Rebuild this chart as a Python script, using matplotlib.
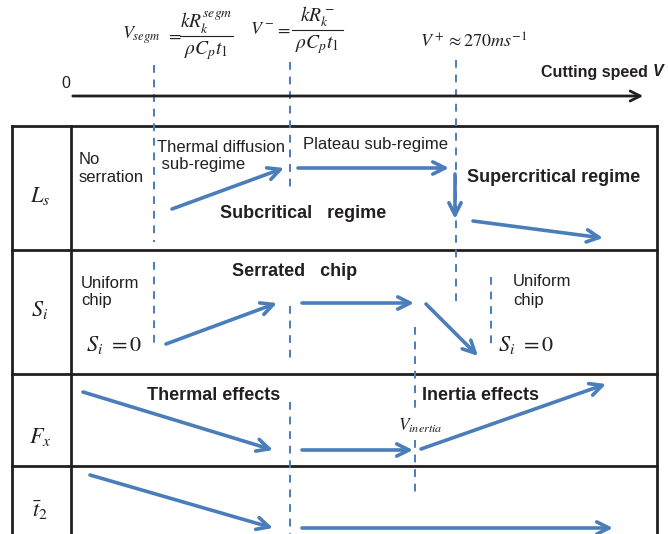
import matplotlib.pyplot as plt

plt.rcParams['font.family'] = ['Liberation Sans', 'DejaVu Sans']
plt.rcParams['mathtext.fontset'] = 'stix'

blue = '#4a7ebb'
ink = '#231f20'

# row labels of the table and their vertical centres
row_labels = [r'$L_s$', r'$S_i$', r'$F_x$', r'$\bar{t}_2$']
row_centres = [196, 310, 437, 510]
row_lines = [126, 250, 374, 466]

# trend arrows: (x0, y0, x1, y1)
arrows = [
    (172, 209, 284, 168), (298, 168, 449, 168), (455, 174, 455, 219), (473, 221, 603, 238),
    (166, 344, 277, 303), (302, 303, 414, 303), (426, 304, 478, 356),
    (83, 392, 273, 450), (302, 450, 413, 450), (421, 449, 606, 384),
    (90, 475, 273, 528), (302, 528, 613, 528),
]

# dashed markers of the critical speeds: (x, y_top, y_bottom)
dashes = [
    (154, 65, 242), (154, 262, 348),
    (290, 62, 190), (290, 306, 364), (290, 402, 534),
    (456, 60, 308),
    (415, 327, 413), (415, 440, 498),
    (491, 277, 350),
]

# critical speed formulas: (lhs, numerator, denominator, x_lhs, x_eq, bar_x0, bar_x1, y_bar)
formulas = [
    (r'$V_{segm}$', r'$kR_k^{segm}$', r'$\rho C_p t_1$', 122, 174, 180, 233, 36),
    (r'$V^-$', r'$kR_k^-$', r'$\rho C_p t_1$', 250, 283, 292, 343, 30),
]

fig = plt.figure(figsize=(6.68, 5.34), dpi=100)
ax = fig.add_axes([0, 0, 1, 1])
ax.set_xlim(0, 668)
ax.set_ylim(534, 0)
ax.axis('off')

# table frame
for y in row_lines:
    ax.plot([12, 657], [y, y], color=ink, lw=2)
for x in [12, 71, 657]:
    ax.plot([x, x], [126, 534], color=ink, lw=2)

for lab, yc in zip(row_labels, row_centres):
    ax.text(40, yc, lab, fontsize=16, ha='center', va='center', color=ink)

# speed axis
ax.annotate('', xy=(646, 96), xytext=(70, 96),
            arrowprops=dict(arrowstyle='->', lw=2, color=ink, mutation_scale=18))
ax.text(66, 84, '0', fontsize=11.5, ha='center', va='center', color=ink)
ax.text(652, 72, 'Cutting speed ', fontsize=11.5, fontweight='bold',
        ha='right', va='center', color=ink)
ax.text(653, 72, 'V', fontsize=11.5, fontweight='bold', fontstyle='italic',
        ha='left', va='center', color=ink)

for lhs, num, den, xl, xe, b0, b1, yb in formulas:
    ax.text(xl, yb - 1, lhs, fontsize=13, ha='left', va='center', color=ink)
    ax.text(xe, yb - 1, '$=$', fontsize=13, ha='center', va='center', color=ink)
    ax.plot([b0, b1], [yb, yb], color=ink, lw=0.8)
    ax.text((b0 + b1) / 2, yb - 13, num, fontsize=14, ha='center', va='center', color=ink)
    ax.text((b0 + b1) / 2, yb + 15, den, fontsize=14, ha='center', va='center', color=ink)

ax.text(420, 42, r'$V^+\approx 270ms^{-1}$', fontsize=13,
        ha='left', va='center', color=ink)

for x, y0, y1 in dashes:
    ax.plot([x, x], [y0, y1], color=blue, lw=1.4, ls=(0, (4, 3.5)))

for x0, y0, x1, y1 in arrows:
    ax.annotate('', xy=(x1, y1), xytext=(x0, y0),
                arrowprops=dict(arrowstyle='->', lw=2.6, color=blue, mutation_scale=22,
                                shrinkA=0, shrinkB=0))

reg = dict(fontsize=12, ha='left', va='center', color=ink, linespacing=1.25)
bold = dict(fontsize=13, fontweight='bold', ha='left', va='center', color=ink)

# Ls row texts
ax.text(79, 168, 'No\nserration', **reg)
ax.text(157, 156, 'Thermal diffusion\n sub-regime', **reg)
ax.text(303, 144, 'Plateau sub-regime', **reg)
ax.text(467, 177, 'Supercritical regime', **bold)
ax.text(220, 213, 'Subcritical   regime', **bold)

# Si row texts
ax.text(81, 292, 'Uniform\nchip', **reg)
ax.text(86, 345, r'$S_i\ =0$', fontsize=16, ha='left', va='center', color=ink)
ax.text(232, 271, 'Serrated   chip', **bold)
ax.text(513, 291, 'Uniform\nchip', **reg)
ax.text(498, 345, r'$S_i\ =0$', fontsize=16, ha='left', va='center', color=ink)

# Fx row texts
ax.text(147, 395, 'Thermal effects', **bold)
ax.text(422, 395, 'Inertia effects', **bold)
ax.text(398, 426, r'$V_{inertia}$', fontsize=12.5, ha='left', va='center', color=ink)

fig.savefig('out.png', dpi=100)
